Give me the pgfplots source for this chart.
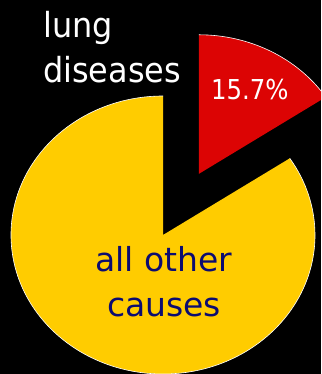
\documentclass[border=0pt]{standalone}
\usepackage{fontspec}
\setmainfont{DejaVu Sans}
\usepackage{pgfplots}
\pgfplotsset{compat=1.18}
\definecolor{slicered}{RGB}{220,4,4}
\definecolor{sliceyellow}{RGB}{255,204,0}
\definecolor{labelnavy}{RGB}{12,12,112}

% share of deaths due to lung diseases (percent)
\def\lungshare{15.7}
% pie geometry in axis units (1 unit = 1pt)
\def\cx{163}\def\cy{139}\def\rx{152}\def\ry{139}
\def\explode{0.5}

\begin{document}
\begin{tikzpicture}
\pgfmathsetmacro\sweep{3.6*\lungshare}
\pgfmathsetmacro\redstart{90-\sweep}
\pgfmathsetmacro\yelend{450-\sweep}
\pgfmathsetmacro\mid{90-\sweep/2}
\pgfmathsetmacro\ex{\cx+\explode*\rx*cos(\mid)}
\pgfmathsetmacro\ey{\cy+\explode*\ry*sin(\mid)}
\pgfmathsetmacro\ytop{\cy+\ry}
\pgfmathsetmacro\rtop{\ey+\ry}
\begin{axis}[
  width=321pt, height=374pt, scale only axis,
  xmin=0, xmax=321, ymin=0, ymax=374,
  axis lines=none, ticks=none,
  axis background/.style={fill=black},
  clip=true,
]
% all other causes
\fill[sliceyellow] (\cx,\cy) -- (\cx,\ytop)
  arc[start angle=90, end angle=\yelend, x radius=\rx pt, y radius=\ry pt] -- cycle;
\draw[white, line width=0.6pt] (\cx,\ytop)
  arc[start angle=90, end angle=\yelend, x radius=\rx pt, y radius=\ry pt];
% lung diseases, pulled out along its bisector
\fill[slicered] (\ex,\ey) -- (\ex,\rtop)
  arc[start angle=90, end angle=\redstart, x radius=\rx pt, y radius=\ry pt] -- cycle;
\draw[white, line width=0.6pt] (\ex,\rtop)
  arc[start angle=90, end angle=\redstart, x radius=\rx pt, y radius=\ry pt];

\node[anchor=base west, inner sep=0, text=white, xscale=0.925,
  font=\fontsize{34.5}{40}\selectfont] at (43,336.5) {lung};
\node[anchor=base west, inner sep=0, text=white, xscale=0.925,
  font=\fontsize{34.5}{40}\selectfont] at (43,291.5) {diseases};
\node[anchor=base west, inner sep=0, text=white, xscale=0.89,
  font=\fontsize{27.4}{32}\selectfont] at (211,274.7) {\lungshare\%};
\node[anchor=base, inner sep=0, text=labelnavy,
  font=\fontsize{33}{38}\selectfont] at (164,102.3) {all other};
\node[anchor=base, inner sep=0, text=labelnavy,
  font=\fontsize{33}{38}\selectfont] at (164,57.3) {causes};
\end{axis}
\end{tikzpicture}
\end{document}
